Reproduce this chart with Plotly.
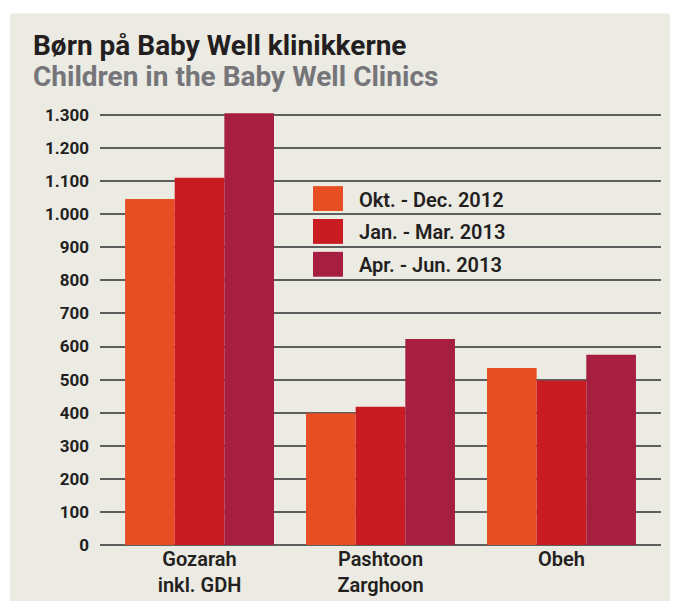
import plotly.graph_objects as go

categories = ["Gozarah<br>inkl. GDH", "Pashtoon<br>Zarghoon", "Obeh"]
series_names = ["Okt. - Dec. 2012", "Jan. - Mar. 2013", "Apr. - Jun. 2013"]
okt_dec_2012 = [1046, 398, 535]
jan_mar_2013 = [1110, 418, 497]
apr_jun_2013 = [1305, 623, 575]
colors = ["#e84e24", "#c91c22", "#a61f40"]
tick_vals = list(range(0, 1400, 100))
tick_text = ["0", "100", "200", "300", "400", "500", "600", "700", "800", "900",
             "1.000", "1.100", "1.200", "1.300"]

W, H = 678, 601
OFF = 8  # page body margin
ML, MR, MT, MB = 92, 25, 97, 62
PW, PH = W - ML - MR, H - MT - MB


def px(xp):
    return (xp - OFF - ML) / PW


def py(yp):
    return (H - MB - (yp - OFF)) / PH


FONT = "Roboto"
DARK = "#231f20"
PANEL = "#ebeae3"

fig = go.Figure()
for name, vals, col in zip(series_names, [okt_dec_2012, jan_mar_2013, apr_jun_2013], colors):
    fig.add_trace(go.Bar(x=categories, y=vals, name=name, marker=dict(color=col, line=dict(width=0)),
                         showlegend=False))

shapes = [
    # white margin strips outside the cream panel
    dict(type="rect", xref="paper", yref="paper", x0=px(0), x1=px(W + 20), y0=py(13), y1=py(0),
         fillcolor="white", line=dict(width=0), layer="below"),
    dict(type="rect", xref="paper", yref="paper", x0=px(0), x1=px(10), y0=py(H + 20), y1=py(0),
         fillcolor="white", line=dict(width=0), layer="below"),
]
annotations = [
    dict(text="<b>Børn på Baby Well klinikkerne</b>", xref="paper", yref="paper", x=px(31), y=py(45),
         xanchor="left", yanchor="middle", showarrow=False, font=dict(family=FONT, size=28, color=DARK)),
    dict(text="<b>Children in the Baby Well Clinics</b>", xref="paper", yref="paper", x=px(31), y=py(76),
         xanchor="left", yanchor="middle", showarrow=False, font=dict(family=FONT, size=28, color="#76767a")),
]
legend_rows = [199, 232, 265]
for name, col, yc in zip(series_names, colors, legend_rows):
    shapes.append(dict(type="rect", xref="paper", yref="paper", x0=px(313), x1=px(343),
                       y0=py(yc + 12.5), y1=py(yc - 12.5), fillcolor=col, line=dict(width=0)))
    annotations.append(dict(text=name, xref="paper", yref="paper", x=px(357), y=py(yc + 1),
                            xanchor="left", yanchor="middle", showarrow=False,
                            font=dict(family=FONT, size=20, color=DARK, weight=600)))

fig.update_layout(
    width=W, height=H,
    margin=dict(l=ML, r=MR, t=MT, b=MB, pad=0),
    paper_bgcolor=PANEL,
    plot_bgcolor="rgba(0,0,0,0)",
    barmode="group",
    bargap=0.177,
    bargroupgap=0,
    shapes=shapes,
    annotations=annotations,
    xaxis=dict(range=[-0.55, 2.55], showgrid=False, showline=False, ticks="", zeroline=False,
               tickfont=dict(family=FONT, size=20, color=DARK, weight=600), fixedrange=True),
    yaxis=dict(range=[0, 1330], tickvals=tick_vals, ticktext=tick_text, showgrid=True,
               gridcolor="#5e5e5e", gridwidth=1.6, zeroline=True, zerolinecolor="#5e5e5e",
               zerolinewidth=1.6, showline=False, ticks="", ticklabelstandoff=10,
               tickfont=dict(family=FONT, size=17, color=DARK, weight="bold")),
    showlegend=False,
)

fig.write_html("out.html")
